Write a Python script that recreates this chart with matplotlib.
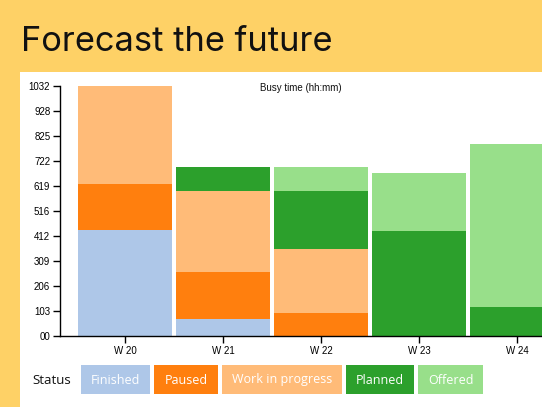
import matplotlib

matplotlib.use("Agg")

import matplotlib.pyplot as plt
import numpy as np
from matplotlib.patches import Rectangle

weeks=["W 20","W 21","W 22","W 23","W 24"]

statuses=["Finished","Paused","Work in progress","Planned","Offered"]

colors=["#aec7e8","#ff7f0e","#ffbb78","#2ca02c","#98df8a"]

finished=[438,71,0,0,0]
paused=[189,194,95,0,0]
in_progress=[405,333,264,0,0]
planned=[0,100,239,435,121]
offered=[0,0,100,238,672]

y_ticks=[0,103.2,206.4,309.6,412.8,516,619.2,722.4,825.6,928.8,1032]
y_labels=["00","103","206","309","412","516","619","722","825","928","1032"]

W,H=542,407
BG="#fed166"

fig=plt.figure(figsize=(W/100,H/100),dpi=100)
fig.patch.set_facecolor(BG)

def px(x0,y0,x1,y1):
    # pixel box (top-left origin) -> figure fraction
    return [x0/W,1-y1/H,(x1-x0)/W,(y1-y0)/H]

# white card behind everything
fig.patches.append(Rectangle((20/W,0),1,(H-72)/H,transform=fig.transFigure,
                             facecolor="white",edgecolor="none",zorder=-5))

fig.text(21/W,1-51/H,"Forecast the future",fontsize=24.8,family="Inter",
         color="#111111",va="baseline",ha="left")

ax=fig.add_axes(px(60,86,542,336))
ax.set_facecolor("none")
ax.set_zorder(1)

series=[finished,paused,in_progress,planned,offered]
x=np.arange(len(weeks))
bottom=np.zeros(len(weeks))

for vals,c in zip(series,colors):
    ax.bar(x,vals,bottom=bottom,width=0.95,color=c,edgecolor="none")
    bottom+=np.array(vals)

ax.set_xlim((60-125)/98,(542-125)/98)
ax.set_ylim(0,1032)

ax.set_xticks(x)
ax.set_xticklabels(weeks)
ax.set_yticks(y_ticks)
ax.set_yticklabels(y_labels)

for s in ["top","right"]:
    ax.spines[s].set_visible(False)

for s in ["left","bottom"]:
    ax.spines[s].set_linewidth(1)
    ax.spines[s].set_color("black")

ax.tick_params(axis="both",length=5,width=1,labelsize=7,colors="black",pad=2)

for lab in ax.get_xticklabels()+ax.get_yticklabels():
    lab.set_family("Liberation Sans")

fig.text(301/W,1-88/H,"Busy time (hh:mm)",fontsize=7,family="Liberation Sans",
         ha="center",va="center",color="#111111",zorder=3)

# legend
fig.text(32/W,1-380/H,"Status",fontsize=9.5,family="Open Sans",
         ha="left",va="center",color="#111111")

fig.canvas.draw()
renderer=fig.canvas.get_renderer()

xpos=81
for name,c in zip(statuses,colors):
    t=fig.text(0,1-380/H,name,fontsize=9,family="Open Sans",color="white",
               ha="left",va="center",zorder=3)
    tw=t.get_window_extent(renderer).width
    pad=10
    box_w=tw+2*pad
    t.set_x((xpos+pad)/W)
    fig.patches.append(Rectangle((xpos/W,1-394/H),box_w/W,29/H,
                                 transform=fig.transFigure,facecolor=c,
                                 edgecolor="none",zorder=2))
    xpos+=box_w+4

fig.savefig("out.png",dpi=100,facecolor=BG)
